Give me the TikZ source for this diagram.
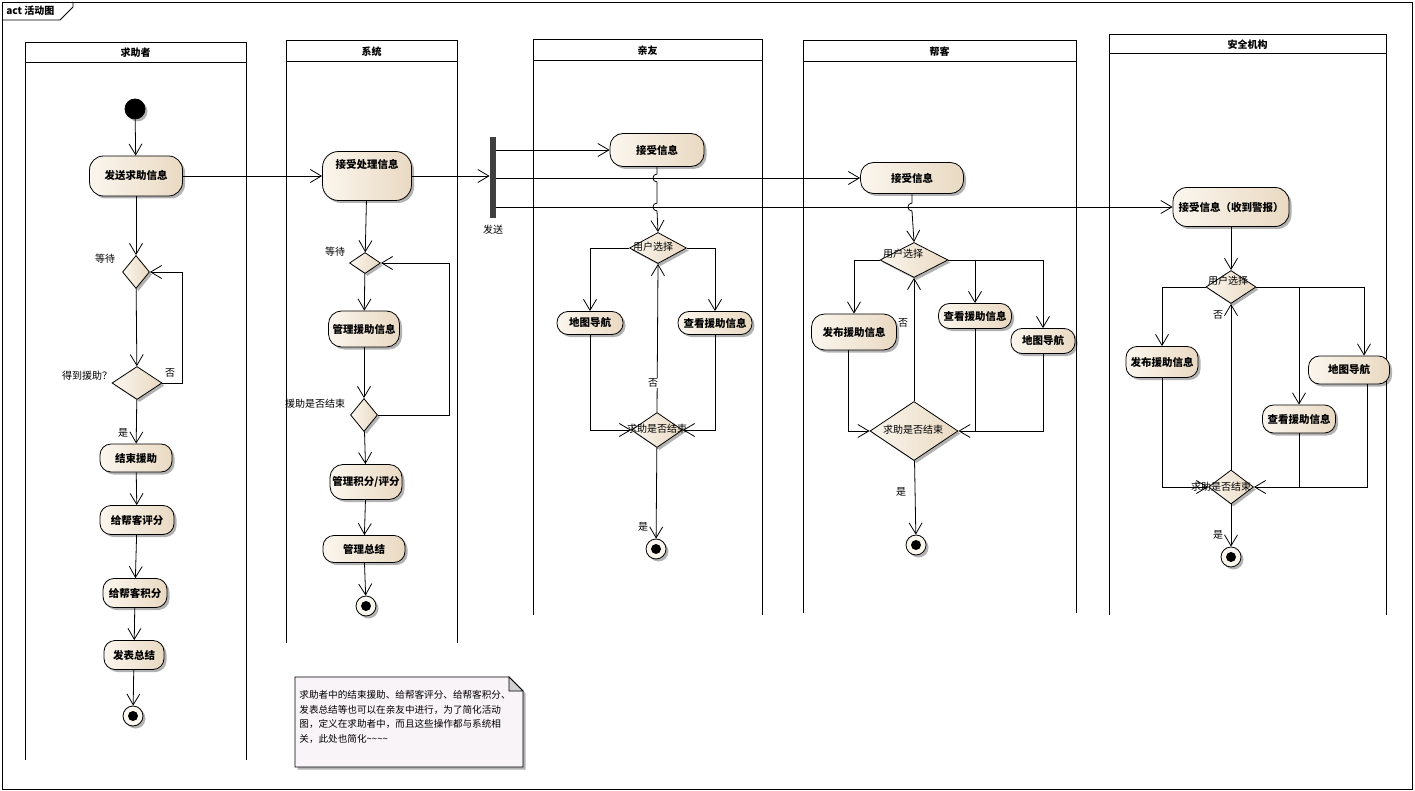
\documentclass[tikz,border=0pt]{standalone}
\usepackage{fontspec}
\setmainfont{Noto Sans CJK SC}
\usetikzlibrary{arrows.meta,shapes.geometric,shadows,calc}
\definecolor{cl}{HTML}{FBF6EE}
\definecolor{cr}{HTML}{E9D9C2}
\definecolor{notebg}{HTML}{F8F4F8}
\definecolor{barc}{HTML}{404040}
\begin{document}
\begin{tikzpicture}[x=1pt,y=-1pt,line width=0.8pt,
  shad/.style={drop shadow={shadow xshift=2.5pt,shadow yshift=-2.5pt,opacity=0.3,fill=black}},
  actbox/.style={draw,rounded corners=11pt,left color=cl,right color=cr,shad,inner sep=0pt,font=\bfseries\fontsize{10.5}{12}\selectfont},
  dec/.style={draw,diamond,inner sep=0pt,left color=cl,right color=cr,shad},
  txt/.style={font=\fontsize{10}{12}\selectfont,inner sep=0pt},
  flow/.style={-{Straight Barb[length=11pt,width=13pt]}},
  fin/.style={draw,circle,minimum size=20pt,inner sep=0pt,fill=cl,shad},
  lanehead/.style={font=\bfseries\fontsize{10}{12}\selectfont},
  lane/.style={line width=1pt},
  hop/.style={out=180,in=180,looseness=1.7}]
\useasboundingbox (0,0) rectangle (1415,791);
% frame
\draw (2,2) rectangle (1412,789);
\draw (2,20) -- (60,20) -- (73,7) -- (73,2);
\node[font=\bfseries\fontsize{10}{12}\selectfont,anchor=west,inner sep=0pt] (title) at (6,11) {act 活动图};
% lanes
\draw[lane] (25,760) -- (25,43) -- (246,43) -- (246,760); \draw[lane] (25,63) -- (246,63);
\node[lanehead] (L1) at (135.5,53) {求助者};
\draw[lane] (286,643) -- (286,41) -- (457,41) -- (457,643); \draw[lane] (286,62) -- (457,62);
\node[lanehead] (L2) at (371.5,51.5) {系统};
\draw[lane] (533,615) -- (533,40) -- (762,40) -- (762,615); \draw[lane] (533,61) -- (762,61);
\node[lanehead] (L3) at (647.5,50.5) {亲友};
\draw[lane] (803,613) -- (803,41) -- (1076,41) -- (1076,613); \draw[lane] (803,62) -- (1076,62);
\node[lanehead] (L4) at (939.5,51.5) {帮客};
\draw[lane] (1109,615) -- (1109,35) -- (1386,35) -- (1386,615); \draw[lane] (1109,54) -- (1386,54);
\node[lanehead] (L5) at (1247.5,44.5) {安全机构};
% ---- 求助者
\node[draw,circle,fill=black,minimum size=20pt,inner sep=0pt,shad] (init) at (135,109) {};
\node[actbox,minimum width=93pt,minimum height=40pt,rounded corners=14pt] (send) at (136,176) {发送求助信息};
\node[dec,minimum width=27pt,minimum height=33pt] (wait1) at (136,272) {};
\node[txt] (wait1t) at (105,259) {等待};
\node[dec,minimum width=50pt,minimum height=33pt] (got) at (137,383) {};
\node[txt] (gott) at (87,376) {得到援助？};
\node[actbox,minimum width=72pt,minimum height=28pt] (endhelp) at (136,458) {结束援助};
\node[actbox,minimum width=74pt,minimum height=29pt] (rate) at (137,520) {给帮客评分};
\node[actbox,minimum width=64pt,minimum height=29pt] (points) at (135,593) {给帮客积分};
\node[actbox,minimum width=60pt,minimum height=29pt] (summary) at (134,655) {发表总结};
\node[fin] (qfin) at (133,716) {}; \fill (qfin.center) circle (5pt);
\draw[flow] (init) -- (send);
\draw[flow] (send) -- (wait1);
\draw[flow] (wait1) -- (got);
\draw[flow] (got.east) -- ++(20,0) |- (wait1.east);
\node[txt] (gotno) at (170,373) {否};
\draw[flow] (got) -- (endhelp);
\node[txt] (gotyes) at (123,433) {是};
\draw[flow] (endhelp) -- (rate);
\draw[flow] (rate) -- (points);
\draw[flow] (points) -- (summary);
\draw[flow] (summary) -- (qfin);
% ---- 系统
\node[actbox,minimum width=89pt,minimum height=49pt,rounded corners=16pt,text depth=24pt] (recv) at (367,176) {接受处理信息};
\node[dec,minimum width=31pt,minimum height=21pt] (swait) at (365,263) {};
\node[txt] (swaitt) at (335,252) {等待};
\node[actbox,minimum width=71pt,minimum height=36pt,rounded corners=13pt] (manage) at (364,329) {管理援助信息};
\node[dec,minimum width=27pt,minimum height=33pt] (sdec) at (364,415) {};
\node[txt] (sdect) at (315,404) {援助是否结束};
\node[actbox,minimum width=72pt,minimum height=35pt,rounded corners=13pt] (score) at (366,482) {管理积分/评分};
\node[actbox,minimum width=82pt,minimum height=27pt] (ssum) at (364,549) {管理总结};
\node[fin] (sfin) at (366,606) {}; \fill (sfin.center) circle (5pt);
\draw[flow] (send.east) -- (recv.west);
\draw[flow] (recv) -- (swait);
\draw[flow] (swait) -- (manage);
\draw[flow] (manage) -- (sdec);
\draw[flow] (sdec.east) -- ++(71,0) |- (swait.east);
\draw[flow] (sdec) -- (score);
\draw[flow] (score) -- (ssum);
\draw[flow] (ssum) -- (sfin);
% ---- fork bar
\node[fill=barc,minimum width=6pt,minimum height=81pt,inner sep=0pt] (bar) at (493,177.5) {};
\node[txt] (bart) at (493,230) {发送};
\draw[flow] (recv.east) -- (bar.west |- recv.east);
% ---- 亲友
\node[actbox,minimum width=94pt,minimum height=33pt,rounded corners=13pt] (f_recv) at (657,150) {接受信息};
\node[dec,minimum width=57pt,minimum height=31pt] (f_choice) at (658,248) {};
\node[txt] (f_choicet) at (653,247) {用户选择};
\node[actbox,minimum width=66pt,minimum height=23pt] (f_map) at (590,323) {地图导航};
\node[actbox,minimum width=74pt,minimum height=23pt] (f_view) at (715,323) {查看援助信息};
\node[dec,minimum width=51pt,minimum height=35pt] (f_end) at (657,430) {};
\node[txt] (f_endt) at (657,429) {求助是否结束};
\node[fin] (f_fin) at (656,549) {}; \fill (f_fin.center) circle (5pt);
% ---- 帮客
\node[actbox,minimum width=103pt,minimum height=31pt,rounded corners=13pt] (b_recv) at (912,178) {接受信息};
\node[dec,minimum width=68pt,minimum height=35pt] (b_choice) at (914,260) {};
\node[txt] (b_choicet) at (903,254) {用户选择};
\node[actbox,minimum width=85pt,minimum height=36pt,rounded corners=13pt] (b_pub) at (854,332) {发布援助信息};
\node[actbox,minimum width=73pt,minimum height=25pt] (b_view) at (975,316) {查看援助信息};
\node[actbox,minimum width=64pt,minimum height=25pt] (b_map) at (1043,341) {地图导航};
\node[dec,minimum width=88pt,minimum height=59pt] (b_end) at (914,431) {};
\node[txt] (b_endt) at (913,430) {求助是否结束};
\node[fin] (b_fin) at (916,545) {}; \fill (b_fin.center) circle (5pt);
% ---- 安全机构
\node[actbox,minimum width=116pt,minimum height=39pt,rounded corners=14pt] (a_recv) at (1231,207) {接受信息（收到警报）};
\node[dec,minimum width=50pt,minimum height=33pt] (a_choice) at (1231,287) {};
\node[txt] (a_choicet) at (1228,281) {用户选择};
\node[actbox,minimum width=72pt,minimum height=31pt] (a_pub) at (1162,362) {发布援助信息};
\node[actbox,minimum width=81pt,minimum height=28pt] (a_map) at (1349,370) {地图导航};
\node[actbox,minimum width=73pt,minimum height=28pt] (a_view) at (1299,419) {查看援助信息};
\node[dec,minimum width=45pt,minimum height=34pt] (a_end) at (1231,487) {};
\node[txt] (a_endt) at (1221,487) {求助是否结束};
\node[fin] (a_fin) at (1231,557) {}; \fill (a_fin.center) circle (5pt);
% bar outputs
\draw[flow] (bar.east |- f_recv.west) -- (f_recv.west);
\draw[flow] (bar.east |- b_recv.west) -- (b_recv.west);
\draw[flow] (bar.east |- a_recv.west) -- (a_recv.west);
% 亲友 flows
\draw[flow] (f_recv.south) -- ([yshift=4pt]f_recv.south |- b_recv.west) to[hop] ([yshift=-4pt]f_recv.south |- b_recv.west)
  -- ([yshift=4pt]f_recv.south |- a_recv.west) to[hop] ([yshift=-4pt]f_recv.south |- a_recv.west) -- (f_choice.north);
\draw[flow] (f_choice.west) -| (f_map.north);
\draw[flow] (f_choice.east) -| (f_view.north);
\draw[flow] (f_map.south) |- (f_end.west);
\draw[flow] (f_view.south) |- (f_end.east);
\draw[flow] (f_end.north) -- (f_choice.south);
\node[txt,fill=white,inner sep=1pt] (f_no) at (653,383) {否};
\draw[flow] (f_end) -- (f_fin);
\node[txt] (f_yes) at (643,527) {是};
% 帮客 flows
\draw[flow] (b_recv.south) -- ([yshift=4pt]b_recv.south |- a_recv.west) to[hop] ([yshift=-4pt]b_recv.south |- a_recv.west) -- (b_choice.north);
\draw[flow] (b_choice.west) -| (b_pub.north);
\draw[flow] (b_choice.east) -| (b_map.north);
\draw[flow] (b_view.north |- b_choice.east) -- (b_view.north);
\draw[flow] ([xshift=-6pt]b_pub.south) |- (b_end.west);
\draw[flow] (b_view.south) |- (b_end.east);
\draw (b_map.south) |- (b_view.south |- b_end.east);
\draw[flow] (b_end.north) -- (b_choice.south);
\node[txt] (b_no) at (903,323) {否};
\draw[flow] (b_end) -- (b_fin);
\node[txt] (b_yes) at (901,492) {是};
% 安全机构 flows
\draw[flow] (a_recv) -- (a_choice);
\draw[flow] (a_choice.west) -| (a_pub.north);
\draw[flow] (a_choice.east) -| ([xshift=15pt]a_map.north);
\draw[flow] (a_view.north |- a_choice.east) -- (a_view.north);
\draw[flow] (a_pub.south) |- (a_end.west);
\draw[flow] ([xshift=18pt]a_map.south) |- (a_end.east);
\draw (a_view.south) -- (a_view.south |- a_end.east);
\draw[flow] (a_end.north) -- (a_choice.south);
\node[txt] (a_no) at (1218,315) {否};
\draw[flow] (a_end) -- (a_fin);
\node[txt] (a_yes) at (1218,535) {是};
% note
\draw[fill=notebg,shad] (295,677) -- (509,677) -- (523,691) -- (523,767) -- (295,767) -- cycle;
\draw[fill=black!18] (509,677) -- (509,691) -- (523,691) -- cycle;
\node[anchor=north west,font=\fontsize{9.6}{14.6}\selectfont,align=left,inner sep=0pt] (note) at (299,690)
 {求助者中的结束援助、给帮客评分、给帮客积分、\\发表总结等也可以在亲友中进行，为了简化活动\\图，定义在求助者中，而且这些操作都与系统相\\关，此处也简化\textasciitilde\textasciitilde\textasciitilde\textasciitilde};
\end{tikzpicture}
\end{document}
